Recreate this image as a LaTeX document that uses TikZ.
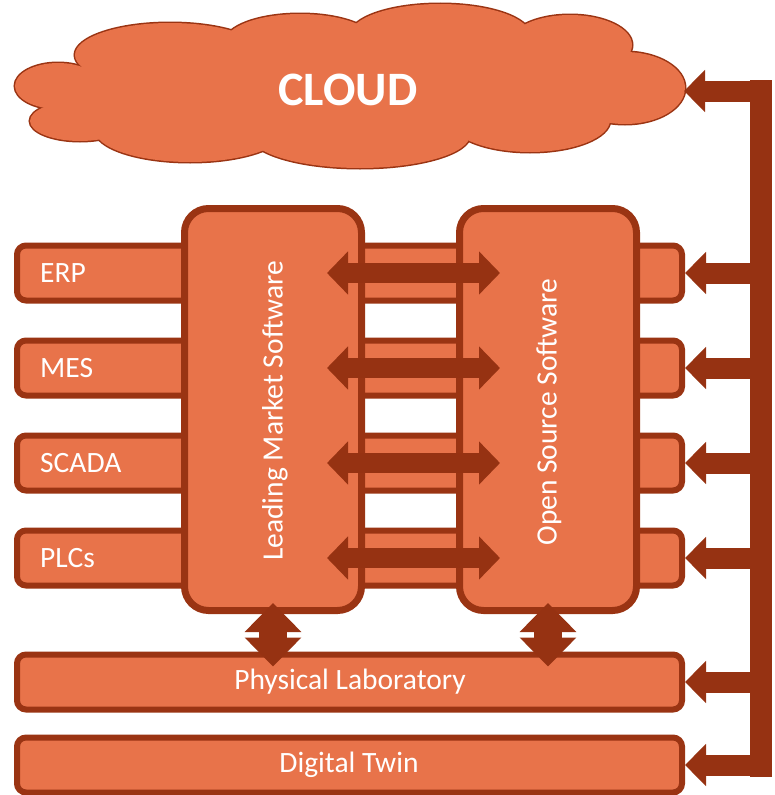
\documentclass[tikz,border=0pt]{standalone}
\usepackage{fontspec}
\setmainfont{Carlito}
\usetikzlibrary{arrows.meta,calc}
\definecolor{fillor}{HTML}{E8734A}
\definecolor{edge}{HTML}{9A3413}
\definecolor{arr}{HTML}{963212}
\begin{document}
\begin{tikzpicture}[x=1pt,y=-1pt,
 rowbox/.style={draw=edge, fill=fillor, line width=6pt, rounded corners=9pt, minimum width=665pt, minimum height=55pt, inner sep=0pt},
 tallbox/.style={draw=edge, fill=fillor, line width=7pt, rounded corners=24pt, minimum width=177pt, minimum height=402pt, inner sep=0pt},
 lbl/.style={text=white, font=\fontsize{29.5}{34}\selectfont, inner sep=0pt},
 harrow/.style={draw=arr, line width=20pt, {Triangle[width=42pt,length=21pt]}-{Triangle[width=42pt,length=21pt]}},
 rarrow/.style={draw=arr, line width=21pt, -{Triangle[width=41pt,length=21pt]}},
 varrow/.style={draw=arr, line width=28pt, {Triangle[width=55pt,length=29pt]}-{Triangle[width=55pt,length=29pt]}},
 cloudpart/.style={draw=edge, line width=3pt},
 cloudfill/.style={fill=fillor}
]
\useasboundingbox (0,0) rectangle (774,795);
% cloud
\foreach \cx/\cy/\rx/\ry in {58/86/43/23, 80/121/50/20, 170/55/95/32, 300/42/75/28, 440/35/90/31, 570/45/62/30, 625/88/60/36, 190/130/95/32, 360/135/110/33, 530/120/80/32, 350/88/270/55}
  \draw[cloudpart] (\cx,\cy) ellipse [x radius=\rx, y radius=\ry];
\foreach \cx/\cy/\rx/\ry in {58/86/43/23, 80/121/50/20, 170/55/95/32, 300/42/75/28, 440/35/90/31, 570/45/62/30, 625/88/60/36, 190/130/95/32, 360/135/110/33, 530/120/80/32, 350/88/270/55}
  \fill[cloudfill] (\cx,\cy) ellipse [x radius=\rx, y radius=\ry];
\node[text=white, font=\fontsize{48}{54}\selectfont\bfseries, inner sep=0pt] (cloud) at (348,90) {CLOUD};
\coordinate (cloudR) at (684,91);

% rows
\node[rowbox] (erp) at (349.5,273) {};
\node[rowbox] (mes) at (349.5,368) {};
\node[rowbox] (scada) at (349.5,463) {};
\node[rowbox] (plc) at (349.5,558) {};
\node[rowbox] (phys) at (349.5,682) {};
\node[rowbox] (twin) at (349.5,765) {};

% tall boxes
\node[tallbox] (lead) at (273,409.5) {};
\node[tallbox] (oss) at (548,409.5) {};

% labels
\node[lbl, anchor=west] (erpL) at (40,273) {ERP};
\node[lbl, anchor=west] (mesL) at (40,368) {MES};
\node[lbl, anchor=west] (scadaL) at (40,463) {SCADA};
\node[lbl, anchor=west] (plcL) at (40,558) {PLCs};
\node[lbl] (physL) at (350,682) {Physical Laboratory};
\node[lbl] (twinL) at (349,765) {Digital Twin};
\node[lbl, rotate=90] (leadL) at (275,411) {Leading Market Software};
\node[lbl, rotate=90] (ossL) at (549,412) {Open Source Software};

% horizontal double arrows
\foreach \r in {erp,mes,scada,plc}
  \draw[harrow] ($(lead.east |- \r)+(-38,0)$) -- ($(oss.west |- \r)+(44,0)$);

% vertical double arrows
\draw[varrow] ($(lead.south)+(0,-11)$) -- ($(lead.south |- phys.north)+(0,15)$);
\draw[varrow] ($(oss.south)+(0,-11)$) -- ($(oss.south |- phys.north)+(0,15)$);

% right bar
\node[fill=arr, minimum width=22pt, minimum height=697pt, inner sep=0pt, outer sep=0pt] (bar) at (761,428.5) {};
\draw[rarrow] (bar.center |- cloudR) -- (cloudR);
\foreach \r in {erp,mes,scada,plc,phys,twin}
  \draw[rarrow] (bar.center |- \r.east) -- (\r.east);
\end{tikzpicture}
\end{document}
